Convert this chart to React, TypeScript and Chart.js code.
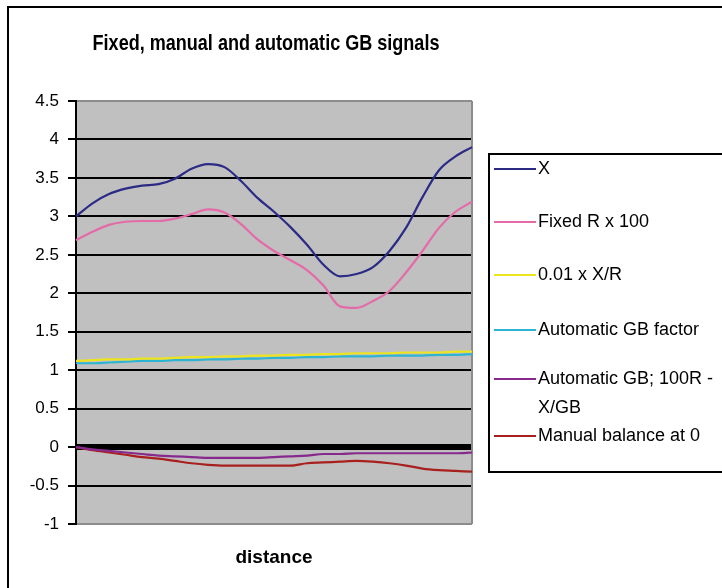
import React, { useEffect, useRef } from "react";
import { Chart, registerables } from "chart.js";

Chart.register(...registerables);

const DISTANCE = [
  "0", "1", "2", "3", "4", "5", "6", "7", "8", "9", "10", "11", "12",
  "13", "14", "15", "16", "17", "18", "19", "20", "21", "22", "23", "24",
];

const SERIES_X = [
  3.0, 3.17, 3.29, 3.36, 3.4, 3.42, 3.49, 3.62, 3.68, 3.64, 3.46, 3.24, 3.06,
  2.86, 2.63, 2.37, 2.22, 2.25, 2.34, 2.55, 2.85, 3.25, 3.6, 3.78, 3.9,
];
const SERIES_FIXED_R = [
  2.69, 2.8, 2.89, 2.93, 2.94, 2.94, 2.97, 3.03, 3.09, 3.05, 2.9, 2.7, 2.55,
  2.43, 2.3, 2.1, 1.83, 1.81, 1.9, 2.03, 2.27, 2.55, 2.85, 3.06, 3.19,
];
const SERIES_XR = [
  1.12, 1.13, 1.14, 1.14, 1.15, 1.15, 1.16, 1.17, 1.17, 1.18, 1.18, 1.19, 1.19,
  1.2, 1.2, 1.21, 1.21, 1.22, 1.22, 1.22, 1.23, 1.23, 1.23, 1.24, 1.24,
];
const SERIES_GB_FACTOR = [
  1.09, 1.09, 1.1, 1.11, 1.12, 1.12, 1.13, 1.13, 1.14, 1.14, 1.15, 1.15, 1.16,
  1.16, 1.17, 1.17, 1.18, 1.18, 1.18, 1.19, 1.19, 1.19, 1.2, 1.2, 1.21,
];
const SERIES_AUTO_GB = [
  0.0, -0.03, -0.05, -0.07, -0.09, -0.11, -0.12, -0.13, -0.14, -0.14, -0.14,
  -0.14, -0.13, -0.12, -0.11, -0.09, -0.09, -0.08, -0.08, -0.08, -0.08, -0.08,
  -0.08, -0.08, -0.07,
];
const SERIES_MANUAL = [
  0.0, -0.04, -0.07, -0.1, -0.13, -0.15, -0.18, -0.21, -0.23, -0.24, -0.24,
  -0.24, -0.24, -0.24, -0.21, -0.2, -0.19, -0.18, -0.19, -0.21, -0.24, -0.28,
  -0.3, -0.31, -0.32,
];

const SERIES_LABELS = [
  "X",
  "Fixed R x 100",
  "0.01 x X/R",
  "Automatic GB factor",
  "Automatic GB; 100R - X/GB",
  "Manual balance at 0",
];
const SERIES_COLORS = ["#2b2b86", "#e46aa8", "#ece41e", "#2cb4d2", "#86288c", "#a8201e"];

const TITLE = "Fixed, manual and automatic GB signals";
const X_TITLE = "distance";

const FONT = "'Liberation Sans', Arial, Helvetica, sans-serif";

const LEGEND_Y = [169, 222, 275, 330, 379, 436];

const framePlugin = {
  id: "frame",
  beforeDraw(chart: any) {
    const { ctx, chartArea } = chart;
    ctx.save();
    ctx.fillStyle = "#ffffff";
    ctx.fillRect(0, 0, chart.width, chart.height);
    ctx.strokeStyle = "#000";
    ctx.lineWidth = 2;
    ctx.strokeRect(8, 7, 900, 900);
    ctx.fillStyle = "#c0c0c0";
    ctx.fillRect(chartArea.left, chartArea.top, chartArea.right - chartArea.left, chartArea.bottom - chartArea.top);
    ctx.restore();
  },
  beforeDatasetsDraw(chart: any) {
    const { ctx, chartArea } = chart;
    ctx.save();
    ctx.strokeStyle = "#8c8c8c";
    ctx.lineWidth = 2;
    ctx.beginPath();
    ctx.moveTo(chartArea.right, chartArea.top);
    ctx.lineTo(chartArea.right, chartArea.bottom);
    ctx.stroke();
    ctx.restore();
  },
  afterDraw(chart: any) {
    const { ctx } = chart;
    ctx.save();
    // title (condensed bold, like Arial Narrow)
    ctx.fillStyle = "#000";
    ctx.font = "bold 22px " + FONT;
    ctx.textAlign = "center";
    ctx.textBaseline = "middle";
    ctx.translate(266, 44);
    ctx.scale(0.82, 1);
    ctx.fillText(TITLE, 0, 0);
    ctx.restore();

    ctx.save();
    ctx.fillStyle = "#ffffff";
    ctx.fillRect(489, 154, 300, 318);
    ctx.strokeStyle = "#000";
    ctx.lineWidth = 2;
    ctx.strokeRect(489, 154, 300, 318);
    ctx.font = "18px " + FONT;
    ctx.textBaseline = "middle";
    ctx.textAlign = "left";
    chart.data.datasets.forEach((ds: any, i: number) => {
      const y = LEGEND_Y[i];
      ctx.strokeStyle = ds.borderColor;
      ctx.lineWidth = 2;
      ctx.beginPath();
      ctx.moveTo(494, y);
      ctx.lineTo(536, y);
      ctx.stroke();
      const words = String(ds.label).split(" ");
      const lines: string[] = [];
      let cur = "";
      for (const w of words) {
        const t = cur ? cur + " " + w : w;
        if (ctx.measureText(t).width > 200 && cur) {
          lines.push(cur);
          cur = w;
        } else cur = t;
      }
      lines.push(cur);
      ctx.fillStyle = "#000";
      lines.forEach((t, j) => ctx.fillText(t, 538, y + j * 29));
    });
    ctx.restore();
  },
};

export default function App() {
  const ref = useRef<HTMLCanvasElement | null>(null);
  useEffect(() => {
    if (!ref.current) return;
    const values = [SERIES_X, SERIES_FIXED_R, SERIES_XR, SERIES_GB_FACTOR, SERIES_AUTO_GB, SERIES_MANUAL];
    const chart = new Chart(ref.current, {
      type: "line",
      data: {
        labels: DISTANCE,
        datasets: values.map((v, i) => ({
          label: SERIES_LABELS[i],
          data: v,
          borderColor: SERIES_COLORS[i],
          backgroundColor: SERIES_COLORS[i],
          borderWidth: 2.2,
          pointRadius: 0,
          cubicInterpolationMode: "monotone" as const,
          fill: false,
        })),
      },
      options: {
        responsive: false,
        animation: false,
        layout: { padding: { left: 10, right: 250, top: 101, bottom: 0 } },
        plugins: {
          legend: { display: false },
          tooltip: { enabled: false },
          title: { display: false },
        },
        scales: {
          x: {
            ticks: { display: false },
            grid: { display: false },
            border: { display: false },
            title: {
              display: true,
              text: X_TITLE,
              color: "#000",
              font: { family: FONT, size: 19, weight: "bold" },
              padding: { top: 0, bottom: 18.6 },
            },
            afterFit: (s: any) => {
              s.height = 64;
            },
          },
          y: {
            min: -1,
            max: 4.5,
            ticks: {
              stepSize: 0.5,
              color: "#000",
              padding: 9,
              font: { family: FONT, size: 17 },
              callback: (v: any) => String(Number(v)),
            },
            grid: {
              color: (c: any) => (c.tick && (c.tick.value === 4.5 || c.tick.value === -1) ? "#8c8c8c" : "#000"),
              lineWidth: (c: any) => (c.tick && c.tick.value === 0 ? 6 : 2),
              tickColor: "#000",
              tickWidth: 2,
              tickLength: 8,
            },
            border: { display: true, color: "#000", width: 2 },
            afterFit: (s: any) => {
              s.width = 66;
            },
          },
        },
      },
      plugins: [framePlugin],
    });
    return () => chart.destroy();
  }, []);
  return (
    <div style={{ position: "absolute", left: 0, top: 0, width: 722, height: 588 }}>
      <canvas ref={ref} width={722} height={588} style={{ display: "block" }} />
    </div>
  );
}
